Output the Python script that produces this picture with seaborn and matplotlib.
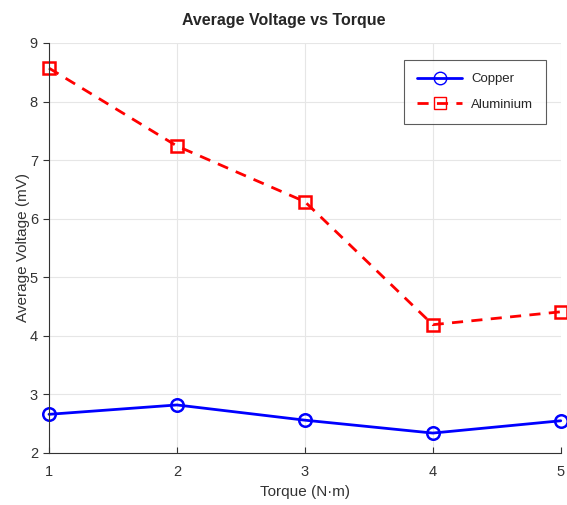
import pandas as pd
import numpy as np
import seaborn as sns
import matplotlib.pyplot as plt

torque = [1, 2, 3, 4, 5]
copper = [2.66, 2.82, 2.56, 2.34, 2.55]
aluminium = [8.57, 7.24, 6.29, 4.19, 4.41]

sns.set_style('whitegrid', {'grid.color': '#e6e6e6', 'axes.edgecolor': '#333333'})
plt.rcParams['font.family'] = ['Liberation Sans', 'DejaVu Sans']

df = pd.DataFrame({'torque': torque * 2,
                   'voltage': copper + aluminium,
                   'metal': ['Copper'] * 5 + ['Aluminium'] * 5})

fig = plt.figure(figsize=(5.67, 5.05), dpi=100)
ax = fig.add_axes([0.0864, 0.103, 0.9026, 0.812])

sns.lineplot(data=df[df.metal == 'Copper'], x='torque', y='voltage', ax=ax,
             color='#0000ff', lw=2, marker='o', ms=9, mfc='none', mec='#0000ff',
             mew=1.8, label='Copper', clip_on=False)
sns.lineplot(data=df[df.metal == 'Aluminium'], x='torque', y='voltage', ax=ax,
             color='#ff0000', lw=2, ls=(0, (4, 3)), marker='s', ms=9, mfc='none',
             mec='#ff0000', mew=1.8, label='Aluminium', clip_on=False)

ax.set_xlim(1, 5)
ax.set_ylim(2, 9)
ax.set_xticks(torque)
ax.set_yticks(range(2, 10))
ax.tick_params(axis='x', labelsize=10.5, colors='#333333', length=4, direction='in', bottom=True, pad=9)
ax.tick_params(axis='y', labelsize=10.5, colors='#333333', length=4, direction='out', left=True, pad=4)
ax.spines['top'].set_visible(False)
ax.spines['right'].set_visible(False)
ax.set_xlabel('Torque (N·m)', fontsize=11, color='#333333', labelpad=4)
ax.set_ylabel('Average Voltage (mV)', fontsize=11, color='#333333', labelpad=0)
fig.text(0.5, 0.96, 'Average Voltage vs Torque', fontsize=11.5, fontweight='bold',
         ha='center', va='center')

leg = ax.legend(loc='upper right', bbox_to_anchor=(0.985, 0.975), fontsize=9.5,
                handlelength=3.4, frameon=True, fancybox=False, borderpad=1.0,
                labelspacing=1.0, handletextpad=0.7)
leg.get_frame().set_edgecolor('#333333')
leg.get_frame().set_linewidth(0.8)
for h in leg.legend_handles:
    h.set_markersize(9)
    h.set_markeredgewidth(1)

fig.savefig('out.png', dpi=100)
